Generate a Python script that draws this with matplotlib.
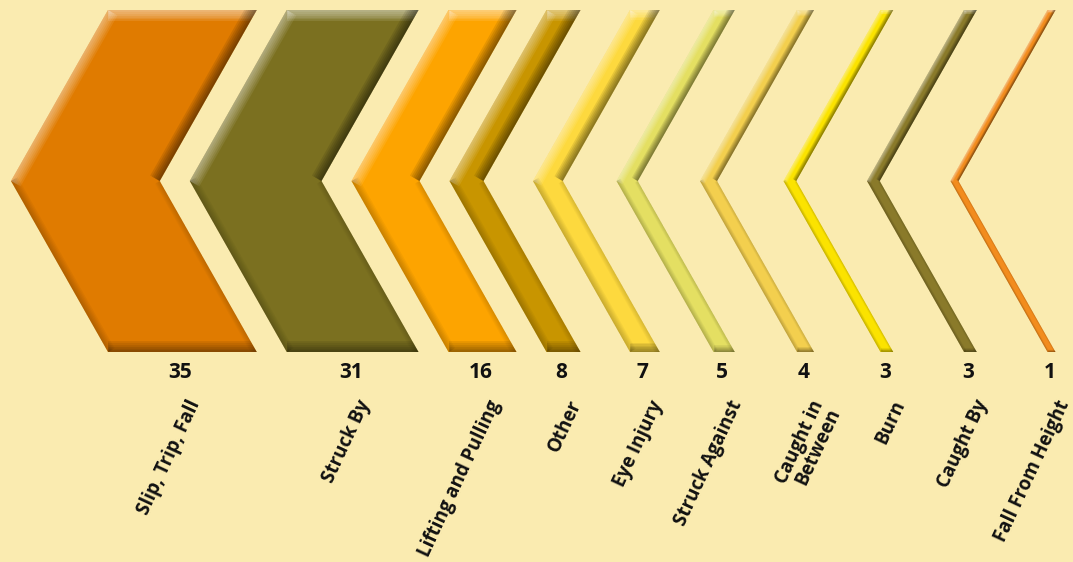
# Chevron chart of incident types (count per type)
import matplotlib.pyplot as plt
from matplotlib.patches import Polygon

# Data
labels = ['Slip, Trip, Fall', 'Struck By', 'Lifting and Pulling', 'Other', 'Eye Injury',
          'Struck Against', 'Caught in\nBetween', 'Burn', 'Caught By', 'Fall From Height']
values = [35, 31, 16, 8, 7, 5, 4, 3, 3, 1]
colors = ['#E07B00', '#7B7020', '#FDA400', '#C89500', '#FDD93E',
          '#E4DF62', '#F3CF4E', '#FBE300', '#8A7A2A', '#F28C1E']

bg = '#FAEBB0'
fig = plt.figure(figsize=(10.73, 5.62), dpi=100, facecolor=bg)
ax = fig.add_axes([0, 0, 1, 1])
ax.set_facecolor(bg)
ax.set_xlim(0, 1073)
ax.set_ylim(562, 0)
ax.axis('off')

# chevron geometry (axis units = pixels)
top, mid, bot = 10, 181, 352
slant = 97
px_per_case = 4.25


def px2pt(px):
    return px * 72 / 100


def bevel(patch, p, q, color, width, strength):
    # stacked lines along an edge, clipped to the shape, give a soft gradient
    n = 6
    for k in range(n):
        lw = 2 * width * (1 - k / n)
        ln, = ax.plot([p[0], q[0]], [p[1], q[1]], color=color, lw=px2pt(lw),
                      alpha=strength / n, solid_capstyle='butt', zorder=3)
        ln.set_clip_path(patch)


tip = 11
for i, (lab, v, c) in enumerate(zip(labels, values, colors)):
    t = max(v * px_per_case, 8)
    xl = tip + slant
    xr = xl + t
    pts = [(xl, top), (xr, top), (xr - slant, mid), (xr, bot), (xl, bot), (tip, mid)]
    patch = Polygon(pts, closed=True, facecolor=c, edgecolor='none', zorder=2)
    ax.add_patch(patch)

    bw = min(11, t * 0.32)
    bevel(patch, pts[0], pts[1], 'white', bw, 0.6)
    bevel(patch, pts[5], pts[0], 'white', bw, 0.5)
    bevel(patch, pts[1], pts[2], 'black', bw, 0.55)
    bevel(patch, pts[3], pts[4], 'black', bw, 0.45)
    bevel(patch, pts[4], pts[5], 'black', bw * 0.7, 0.2)
    bevel(patch, pts[2], pts[3], 'black', bw * 0.5, 0.15)

    xc = (xl + xr) / 2
    ax.text(xc - 2, 373, str(v), ha='center', va='center', fontsize=15,
            fontweight='bold', family='Open Sans', color='#111111')
    ax.text(xc + 4, 397, lab, ha='right', va='top', rotation=65,
            rotation_mode='anchor', fontsize=13.5, fontweight='bold',
            family='Open Sans', color='#111111', linespacing=0.95)

    tip += max(83.5, t + 30)

fig.savefig('out.png', dpi=100, facecolor=bg)
